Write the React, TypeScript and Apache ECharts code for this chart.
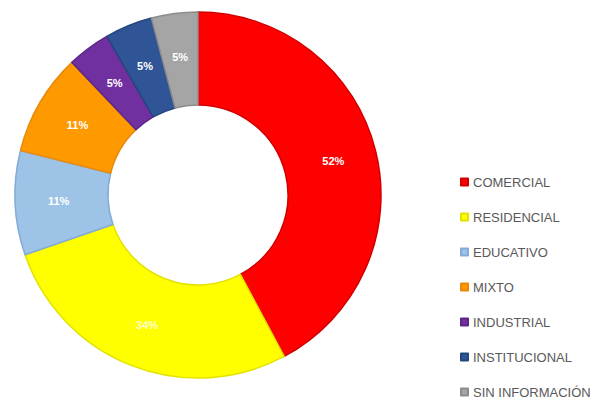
import React, { useEffect, useRef } from "react";
import * as echarts from "echarts";

const categories = ["COMERCIAL", "RESIDENCIAL", "EDUCATIVO", "MIXTO", "INDUSTRIAL", "INSTITUCIONAL", "SIN INFORMACIÓN"];
// slice sizes as drawn (share of the ring)
const sliceValues = [42.2, 27.5, 9.2, 9.0, 3.8, 4.2, 4.1];
// label texts printed on the slices
const labelTexts = ["52%", "34%", "11%", "11%", "5%", "5%", "5%"];
const colors = ["#FF0000", "#FFFF00", "#9DC3E6", "#FF9900", "#7030A0", "#2F5597", "#A5A5A5"];
const borderColors = ["#D00000", "#E2E200", "#82AADA", "#E8890A", "#5E2688", "#24477F", "#8C8C8C"];
const labelColors = ["#FFFFFF", "#FFFFD0", "#FFFFFF", "#FFFFFF", "#FFFFFF", "#FFFFFF", "#FFFFFF"];

export default function App() {
  const ref = useRef<HTMLDivElement>(null);
  useEffect(() => {
    if (!ref.current) return;
    const chart = echarts.init(ref.current, undefined, { renderer: "svg" });
    chart.setOption({
      animation: false,
      backgroundColor: "#FFFFFF",
      legend: {
        orient: "vertical",
        left: 460,
        top: 175,
        padding: 0,
        itemWidth: 7,
        itemHeight: 7,
        itemGap: 21,
        icon: "rect",
        selectedMode: false,
        data: categories,
        textStyle: {
          fontFamily: "Liberation Sans, Arial, sans-serif",
          fontSize: 13,
          lineHeight: 14,
          color: "#595959",
        },
      },
      series: [
        {
          type: "pie",
          center: [198, 195],
          radius: [90, 183],
          startAngle: 90,
          clockwise: true,
          avoidLabelOverlap: false,
          label: {
            show: true,
            position: "inside",
            fontFamily: "Liberation Sans, Arial, sans-serif",
            fontSize: 11,
            fontWeight: "bold",
            formatter: (p: any) => labelTexts[p.dataIndex],
          },
          labelLine: { show: false },
          emphasis: { disabled: true },
          data: categories.map((name, i) => ({
            name,
            value: sliceValues[i],
            itemStyle: { color: colors[i], borderColor: borderColors[i], borderWidth: 1.5 },
            label: { color: labelColors[i] },
          })),
        },
      ],
    });
    return () => chart.dispose();
  }, []);
  return <div ref={ref} style={{ position: "fixed", left: 0, top: 0, width: 599, height: 413 }} />;
}
